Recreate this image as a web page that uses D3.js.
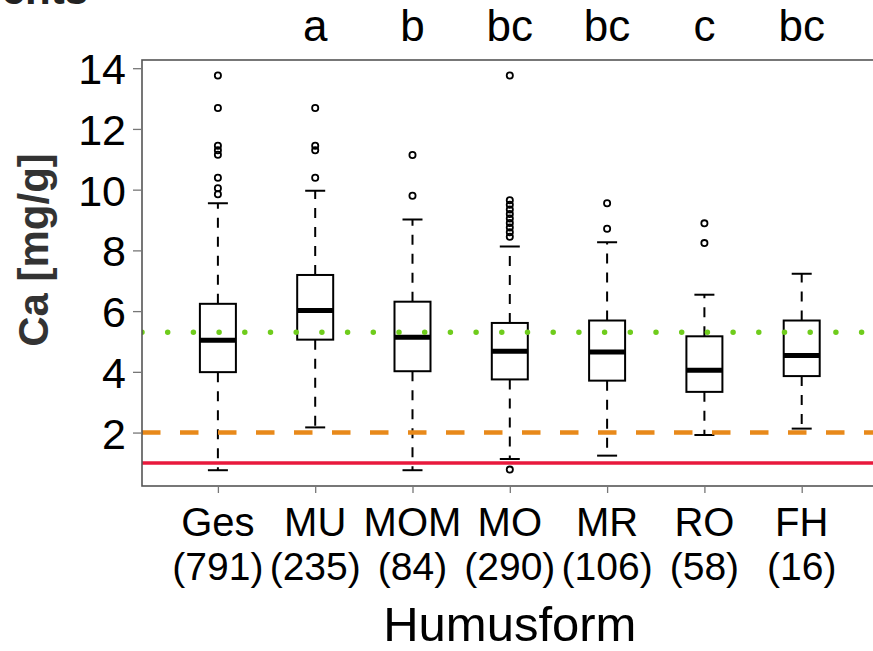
<!DOCTYPE html>
<html>
<head>
<meta charset="utf-8">
<script src="https://cdn.jsdelivr.net/npm/d3@7"></script>
<style>
  body { margin: 0; background: #fff; }
  svg { display: block; }
  text { font-family: "Liberation Sans", Arial, Helvetica, sans-serif; }
</style>
</head>
<body>
<svg id="chart" width="873" height="651"></svg>
<script>
// ---- data ----
const categories = ["Ges", "MU", "MOM", "MO", "MR", "RO", "FH"];
const counts = ["(791)", "(235)", "(84)", "(290)", "(106)", "(58)", "(16)"];
const letters = ["", "a", "b", "bc", "bc", "c", "bc"];
const whiskerLow = [0.76, 2.17, 0.76, 1.13, 1.24, 1.92, 2.13];
const q1 = [3.99, 5.06, 4.02, 3.75, 3.71, 3.34, 3.86];
const medians = [5.04, 6.02, 5.14, 4.68, 4.65, 4.05, 4.54];
const q3 = [6.24, 7.19, 6.31, 5.61, 5.69, 5.17, 5.69];
const whiskerHigh = [9.55, 9.96, 9.02, 8.13, 8.27, 6.54, 7.23];
const outliers = [
  [13.76, 12.69, 11.45, 11.3, 11.15, 10.39, 10.05, 9.85],
  [12.69, 11.45, 11.3, 10.39],
  [11.14, 9.8],
  [13.76, 9.65, 9.5, 9.35, 9.2, 9.05, 8.9, 8.75, 8.6, 8.45, 0.78],
  [9.55, 8.71],
  [8.89, 8.24],
  []
];
const yTicks = [2, 4, 6, 8, 10, 12, 14];
const refGreen = 5.3;
const refOrange = 2;
const refRed = 1;

// ---- layout ----
const svg = d3.select("#chart");
const pLeft = 142, pTop = 60, pBottom = 486, pRight = 877.6;
const x = d3.scaleLinear().domain([0.22, 7.78]).range([pLeft, pRight]);
const y = d3.scaleLinear().domain([0.24, 14.27]).range([pBottom, pTop]);
const boxW = 36, capW = 20;

// cropped title fragment at the top-left (cut off in the reference too)
svg.append("text").attr("x", 88).attr("y", 4).attr("text-anchor", "end")
  .attr("font-size", 42).attr("font-weight", "bold").attr("fill", "#222").text("ents");

// clip for plot region
svg.append("defs").append("clipPath").attr("id", "plotclip")
  .append("rect").attr("x", pLeft).attr("y", pTop).attr("width", pRight - pLeft).attr("height", pBottom - pTop);

const plot = svg.append("g").attr("clip-path", "url(#plotclip)");

const data = categories.map((c, i) => ({
  c, i, pos: i + 1, lo: whiskerLow[i], q1: q1[i], med: medians[i], q3: q3[i], hi: whiskerHigh[i], out: outliers[i]
}));

const g = plot.selectAll("g.box").data(data).join("g").attr("class", "box");
// whiskers
g.append("line").attr("x1", d => x(d.pos)).attr("x2", d => x(d.pos))
  .attr("y1", d => y(d.q3)).attr("y2", d => y(d.hi))
  .attr("stroke", "#000").attr("stroke-width", 2).attr("stroke-dasharray", "10 9");
g.append("line").attr("x1", d => x(d.pos)).attr("x2", d => x(d.pos))
  .attr("y1", d => y(d.q1)).attr("y2", d => y(d.lo))
  .attr("stroke", "#000").attr("stroke-width", 2).attr("stroke-dasharray", "10 9");
// caps
["hi", "lo"].forEach(k => {
  g.append("line").attr("x1", d => x(d.pos) - capW / 2).attr("x2", d => x(d.pos) + capW / 2)
    .attr("y1", d => y(d[k])).attr("y2", d => y(d[k]))
    .attr("stroke", "#000").attr("stroke-width", 2);
});
// box
g.append("rect").attr("x", d => x(d.pos) - boxW / 2).attr("width", boxW)
  .attr("y", d => y(d.q3)).attr("height", d => y(d.q1) - y(d.q3))
  .attr("fill", "none").attr("stroke", "#000").attr("stroke-width", 2);
// median
g.append("line").attr("x1", d => x(d.pos) - boxW / 2).attr("x2", d => x(d.pos) + boxW / 2)
  .attr("y1", d => y(d.med)).attr("y2", d => y(d.med))
  .attr("stroke", "#000").attr("stroke-width", 5);
// outliers
g.selectAll("circle").data(d => d.out.map(v => ({ pos: d.pos, v }))).join("circle")
  .attr("cx", d => x(d.pos)).attr("cy", d => y(d.v)).attr("r", 3.1)
  .attr("fill", "none").attr("stroke", "#000").attr("stroke-width", 1.8);

// reference lines
plot.append("line").attr("x1", pLeft).attr("x2", pRight).attr("y1", y(refGreen)).attr("y2", y(refGreen))
  .attr("stroke", "#6fcc1c").attr("stroke-width", 5.5).attr("stroke-linecap", "round")
  .attr("stroke-dasharray", "0 25.7");
plot.append("line").attr("x1", pLeft).attr("x2", pRight).attr("y1", y(refOrange)).attr("y2", y(refOrange))
  .attr("stroke", "#e8891a").attr("stroke-width", 4.5).attr("stroke-dasharray", "18.5 19.5");
plot.append("line").attr("x1", pLeft).attr("x2", pRight).attr("y1", y(refRed)).attr("y2", y(refRed))
  .attr("stroke", "#e8193c").attr("stroke-width", 3.5);

// frame
svg.append("rect").attr("x", pLeft).attr("y", pTop).attr("width", pRight - pLeft).attr("height", pBottom - pTop)
  .attr("fill", "none").attr("stroke", "#555").attr("stroke-width", 1.6);

// y axis
const yAxis = d3.axisLeft(y).tickValues(yTicks).tickSize(9).tickPadding(7).tickFormat(d3.format("d"));
const ya = svg.append("g").attr("transform", `translate(${pLeft},0)`).call(yAxis);
ya.select(".domain").remove();
ya.selectAll(".tick line").attr("stroke", "#777").attr("stroke-width", 1.3);
ya.selectAll(".tick text").attr("font-size", 43).attr("fill", "#000")
  .attr("font-family", "Liberation Sans, Arial, sans-serif").attr("dy", "0.36em").attr("x", -16);

// x axis
const xAxis = d3.axisBottom(x).tickValues(data.map(d => d.pos)).tickSize(7).tickFormat(() => "");
const xa = svg.append("g").attr("transform", `translate(0,${pBottom})`).call(xAxis);
xa.select(".domain").remove();
xa.selectAll(".tick line").attr("stroke", "#777").attr("stroke-width", 1.3);

svg.append("g").selectAll("text").data(data).join("text")
  .attr("x", d => x(d.pos)).attr("y", 536).attr("text-anchor", "middle")
  .attr("font-size", 40).attr("fill", "#000").text(d => d.c);
svg.append("g").selectAll("text").data(data).join("text")
  .attr("x", d => x(d.pos)).attr("y", 580).attr("text-anchor", "middle")
  .attr("font-size", 39).attr("fill", "#000").text(d => counts[d.i]);

// letters above
svg.append("g").selectAll("text").data(data).join("text")
  .attr("x", d => x(d.pos)).attr("y", 41).attr("text-anchor", "middle")
  .attr("font-size", 44).attr("fill", "#000").text(d => letters[d.i]);

// axis titles
svg.append("text").attr("x", (pLeft + pRight) / 2).attr("y", 641).attr("text-anchor", "middle")
  .attr("font-size", 49).attr("fill", "#000").text("Humusform");
svg.append("text").attr("transform", "translate(48,250) rotate(-90)").attr("text-anchor", "middle")
  .attr("font-size", 42).attr("font-weight", "bold").attr("fill", "#333").text("Ca [mg/g]");
</script>
</body>
</html>
